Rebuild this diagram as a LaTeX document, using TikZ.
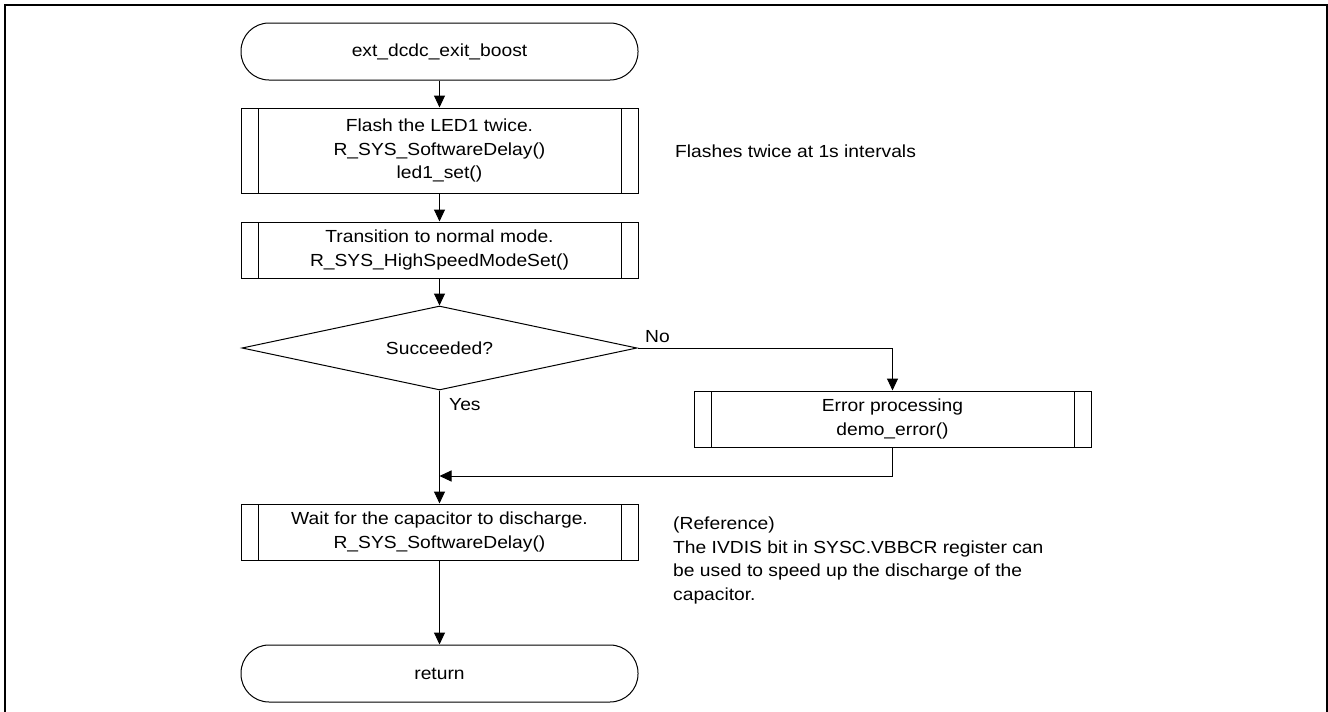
\documentclass[tikz,border=0pt]{standalone}
\usepackage{fontspec}
\setmainfont[FakeStretch=1.1]{Liberation Sans}
\usetikzlibrary{shapes.geometric,arrows.meta}

\tikzset{
  txt/.style={font=\fontsize{17.5}{23.5}\selectfont, inner sep=0pt, align=center},
  outline/.style={draw=black, line width=1pt},
  flow/.style={outline, -{Triangle[length=12pt,width=11pt]}},
  terminal/.style={txt, outline, rounded corners=28pt,
    minimum width=397pt, minimum height=57pt},
  subproc/.style={txt, outline, minimum width=397pt, minimum height=#1,
    path picture={
      \draw[line width=1pt]
        ([xshift=17pt]path picture bounding box.north west) --
        ([xshift=17pt]path picture bounding box.south west)
        ([xshift=-17pt]path picture bounding box.north east) --
        ([xshift=-17pt]path picture bounding box.south east);
    }},
  decision/.style={txt, outline, diamond, aspect=4.7,
    minimum width=395pt, minimum height=84pt},
  note/.style={txt, align=left, anchor=west},
}

\begin{document}
\begin{tikzpicture}[x=1pt,y=-1pt]
  \useasboundingbox (0,0) rectangle (1328,712);
  % page frame (open at the bottom edge)
  \draw[line width=2pt] (5,716) -- (5,5) -- (1326.5,5) -- (1326.5,716);

  % flow steps
  \node[terminal] (start) at (439.5,51.5) {ext\_dcdc\_exit\_boost};
  \node[subproc=85pt] (flash) at (439.5,150.5)
    {Flash the LED1 twice.\\R\_SYS\_SoftwareDelay()\\led1\_set()};
  \node[subproc=56pt] (mode) at (439.5,250)
    {Transition to normal mode.\\R\_SYS\_HighSpeedModeSet()};
  \node[decision] (ok) at (439.5,348) {Succeeded?};
  \node[subproc=56pt] (err) at (892.5,419)
    {Error processing\\demo\_error()};
  \node[subproc=56pt] (wait) at (439.5,532)
    {Wait for the capacitor to discharge.\\R\_SYS\_SoftwareDelay()};
  \node[terminal] (ret) at (439.5,673.5) {return};

  % side notes
  \node[note] (flashnote) at (675,151) {Flashes twice at 1s intervals};
  \node[note] (refnote) at (673,560.5)
    {(Reference)\\The IVDIS bit in SYSC.VBBCR register can\\be used to speed up the discharge of the\\capacitor.};

  % branch labels
  \node[txt, anchor=west] (nolbl) at (645,337) {No};
  \node[txt, anchor=west] (yeslbl) at (449,405) {Yes};

  % connectors
  \coordinate (join) at (ok.south |- 0,476);
  \draw[flow] (start) -- (flash);
  \draw[flow] (flash) -- (mode);
  \draw[flow] (mode) -- (ok);
  \draw[flow] (ok.east) -| (err.north);
  \draw[flow] (ok.south) -- (wait.north);
  \draw[flow] (err.south) |- (join);
  \draw[flow] (wait) -- (ret);
\end{tikzpicture}
\end{document}
